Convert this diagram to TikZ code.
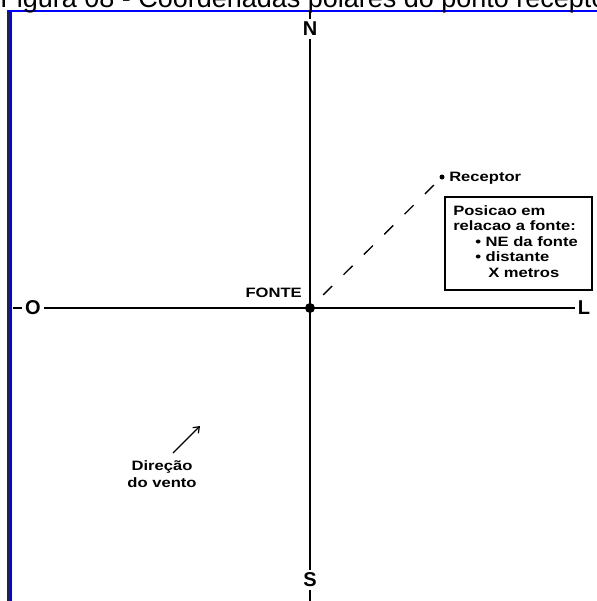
\documentclass[tikz,border=0pt]{standalone}
\usepackage{fontspec}
\newfontfamily\pixfont[FakeStretch=1.22]{Liberation Sans Bold}
\newfontfamily\cardfont{Liberation Sans Bold}
\newfontfamily\capfont{Liberation Sans}
\usetikzlibrary{arrows.meta}
\definecolor{frameblue}{RGB}{0,0,255}

\begin{document}
\begin{tikzpicture}[
    x=0.75pt, y=-0.75pt,
    axis/.style={line width=1pt, black},
    cardinal/.style={font=\cardfont\fontsize{15pt}{15pt}\selectfont, inner sep=2pt},
    pixtext/.style={font=\pixfont\fontsize{10.2pt}{11.6pt}\selectfont, inner sep=0pt},
    bigdot/.style={circle, fill=black, inner sep=0pt, minimum size=7.5pt},
    smalldot/.style={circle, fill=black, inner sep=0pt, minimum size=3.75pt},
    dashline/.style={line width=1pt, dash pattern=on 9.5pt off 12pt, dash phase=11.5pt},
    infobox/.style={draw, line width=1pt, inner sep=0pt,
        minimum width=110.25pt, minimum height=69.75pt},
    windarrow/.style={line width=0.9pt, -{Straight Barb[length=4pt, width=6pt]}}
]
    \useasboundingbox (0,0) rectangle (597,601);

    % window frame and caption
    \draw[line width=2pt, black!85] (8.7,10) -- (8.7,601);
    \draw[line width=1.3pt, frameblue] (11.2,11) -- (11.2,601);
    \draw[line width=1.5pt, frameblue] (8,11) -- (597,11);
    \node[anchor=base west, inner sep=0pt,
        font=\capfont\fontsize{20.25pt}{24pt}\selectfont] (caption) at (0,7)
        {Figura 08 - Coordenadas polares do ponto receptor};

    % axes
    \coordinate (ntop) at (310,11);
    \coordinate (sbot) at (310,601);
    \coordinate (wtip) at (13,308);
    \node[cardinal] (north) at (310,29) {N};
    \node[cardinal] (south) at (310,580) {S};
    \node[cardinal] (west) at (33,308) {O};
    \node[cardinal] (east) at (584,308) {L};
    \draw[axis] (ntop) -- (north);
    \draw[axis] (north) -- (south);
    \draw[axis] (south) -- (sbot);
    \draw[axis] (wtip) -- (west);
    \draw[axis] (west) -- (east);

    % source and receptor
    \node[bigdot] (fonte) at (310,308) {};
    \node[smalldot] (receptor) at (442,177) {};
    \draw[dashline] (fonte) -- (receptor);
    \node[pixtext, anchor=base east] (fontelabel) at (302,297) {FONTE};
    \node[pixtext, anchor=base west] (receptorlabel) at (449,181) {Receptor};

    % position box
    \node[infobox] (infobox) at (518.5,243.5) {};
    \node[pixtext, anchor=base west, align=left] (infotext) at (453,277)
        {Posicao em\\relacao a fonte:\\\hspace*{16.5pt}• NE da fonte\\
         \hspace*{16.5pt}• distante\\\hspace*{26.25pt}X metros};

    % wind direction
    \coordinate (windtail) at (173,453);
    \coordinate (windhead) at (200,426);
    \draw[windarrow] (windtail) -- (windhead);
    \node[pixtext, anchor=base, align=center,
        font=\pixfont\fontsize{10.2pt}{12.75pt}\selectfont] (windlabel) at (162,487)
        {Direção\\do vento};
\end{tikzpicture}
\end{document}
